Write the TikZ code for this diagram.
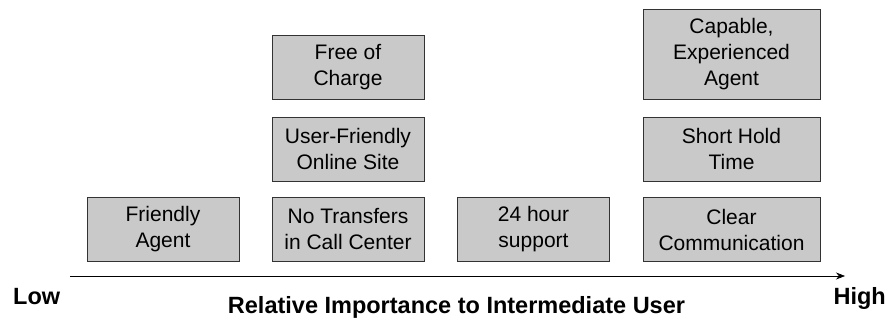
\documentclass[tikz,border=0pt]{standalone}
\usepackage{fontspec}
\setmainfont{Liberation Sans}
\usetikzlibrary{arrows.meta,positioning}
\tikzset{need/.style = {rectangle, draw=black!80, fill=black!21, semithick, align=center, inner sep=0pt,
            minimum width=152pt, minimum height=64pt, font=\fontsize{21}{26}\selectfont},
        wideneed/.style = {need, minimum width=177pt},
        axislabel/.style = {inner sep=0pt, font=\fontsize{23.5}{28}\selectfont\bfseries}
}

\begin{document}
\begin{tikzpicture}[x=1pt,y=-1pt,>={Stealth[length=9pt,width=7pt]}]
    \useasboundingbox (0,0) rectangle (888,320);
    % bottom row
    \node[need] (friendly) at (163,229) {Friendly\\Agent};
    \node[need] (transfers) at (348,229) {No Transfers\\in Call Center};
    \node[need] (support) at (533.5,229) {24 hour\\support};
    \node[wideneed] (clear) at (731.5,229.5) {Clear\\Communication};
    % stacked ones
    \node[need] (online) at (348,149) {User-Friendly\\Online Site};
    \node[need] (free) at (348,67) {Free of\\Charge};
    \node[wideneed] (hold) at (731.5,149) {Short Hold\\Time};
    \node[wideneed, minimum height=90pt] (capable) at (731.5,54) {Capable,\\Experienced\\Agent};
    % axis
    \coordinate (start) at (70,276);
    \coordinate (end) at (845,276);
    \draw[->, semithick] (start) -- (end);
    \node[axislabel, anchor=base west] (low) at (13,304) {Low};
    \node[axislabel, anchor=base east] (high) at (886,304) {High};
    \node[axislabel, anchor=base] (title) at (456.5,313) {Relative Importance to Intermediate User};
\end{tikzpicture}
\end{document}
